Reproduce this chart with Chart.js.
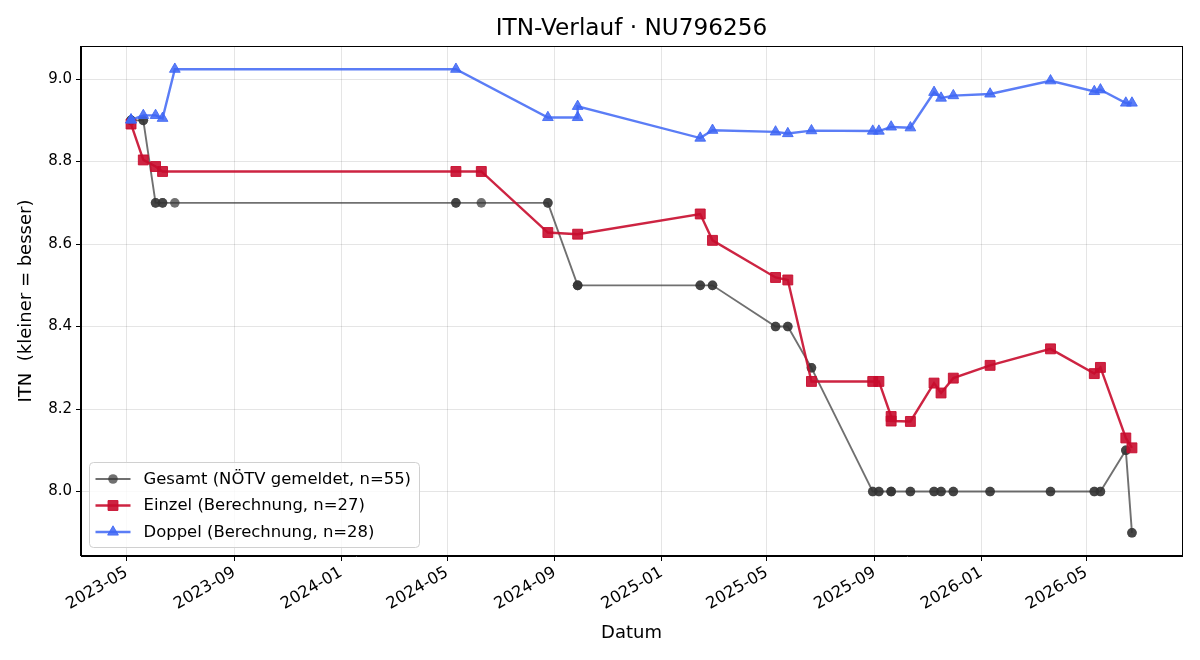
<!DOCTYPE html>
<html>
<head>
<meta charset="utf-8">
<script src="https://cdn.jsdelivr.net/npm/chart.js@4/dist/chart.umd.min.js"></script>
<style>
  html, body { margin: 0; padding: 0; background: #ffffff; }
  #wrap { width: 1200px; height: 660px; position: relative; }
</style>
</head>
<body>
<div id="wrap"><canvas id="c" width="1200" height="660"></canvas></div>
<script>
// ---------------- DATA ----------------
const chartTitle = 'ITN-Verlauf · NU796256';
const xAxisTitle = 'Datum';
const yAxisTitle = 'ITN  (kleiner = besser)';

const gesamtLabel = 'Gesamt (NÖTV gemeldet, n=55)';
const gesamtDates = [
  '2023-05-06','2023-05-06','2023-05-06','2023-05-20','2023-05-20',
  '2023-06-03','2023-06-03','2023-06-11','2023-06-11','2023-06-25',
  '2024-05-11','2024-05-11','2024-06-09','2024-08-24','2024-08-24',
  '2024-09-27','2024-09-27','2024-09-27','2025-02-14','2025-02-14',
  '2025-02-28','2025-02-28','2025-05-11','2025-05-11','2025-05-25',
  '2025-05-25','2025-06-21','2025-06-21','2025-08-30','2025-08-30',
  '2025-09-06','2025-09-06','2025-09-20','2025-09-20','2025-09-20',
  '2025-10-12','2025-10-12','2025-11-08','2025-11-08','2025-11-16',
  '2025-11-16','2025-11-30','2025-11-30','2026-01-11','2026-01-11',
  '2026-03-21','2026-03-21','2026-05-10','2026-05-10','2026-05-17',
  '2026-05-17','2026-06-15','2026-06-15','2026-06-22','2026-06-22'
];
const gesamtValues = [
  8.9, 8.9, 8.9, 8.9, 8.9,
  8.7, 8.7, 8.7, 8.7, 8.7,
  8.7, 8.7, 8.7, 8.7, 8.7,
  8.5, 8.5, 8.5, 8.5, 8.5,
  8.5, 8.5, 8.4, 8.4, 8.4,
  8.4, 8.3, 8.3, 8.0, 8.0,
  8.0, 8.0, 8.0, 8.0, 8.0,
  8.0, 8.0, 8.0, 8.0, 8.0,
  8.0, 8.0, 8.0, 8.0, 8.0,
  8.0, 8.0, 8.0, 8.0, 8.0,
  8.0, 8.1, 8.1, 7.9, 7.9
];

const einzelLabel = 'Einzel (Berechnung, n=27)';
const einzelDates = [
  '2023-05-06','2023-05-20','2023-06-03','2023-06-11','2024-05-11',
  '2024-06-09','2024-08-24','2024-09-27','2025-02-14','2025-02-28',
  '2025-05-11','2025-05-25','2025-06-21','2025-08-30','2025-09-06',
  '2025-09-20','2025-09-20','2025-10-12','2025-11-08','2025-11-16',
  '2025-11-30','2026-01-11','2026-03-21','2026-05-10','2026-05-17',
  '2026-06-15','2026-06-22'
];
const einzelValues = [
  8.891, 8.804, 8.788, 8.776, 8.776,
  8.776, 8.628, 8.624, 8.673, 8.609,
  8.519, 8.513, 8.267, 8.267, 8.267,
  8.182, 8.171, 8.170, 8.263, 8.239,
  8.275, 8.306, 8.346, 8.286, 8.301,
  8.130, 8.106
];

const doppelLabel = 'Doppel (Berechnung, n=28)';
const doppelDates = [
  '2023-05-06','2023-05-06','2023-05-20','2023-06-03','2023-06-11',
  '2023-06-25','2024-05-11','2024-08-24','2024-09-27','2024-09-27',
  '2025-02-14','2025-02-28','2025-05-11','2025-05-25','2025-06-21',
  '2025-08-30','2025-09-06','2025-09-20','2025-10-12','2025-11-08',
  '2025-11-16','2025-11-30','2026-01-11','2026-03-21','2026-05-10',
  '2026-05-17','2026-06-15','2026-06-22'
];
const doppelValues = [
  8.901, 8.901, 8.912, 8.912, 8.905,
  9.024, 9.024, 8.907, 8.907, 8.934,
  8.857, 8.876, 8.872, 8.868, 8.875,
  8.874, 8.874, 8.884, 8.882, 8.968,
  8.954, 8.960, 8.964, 8.996, 8.970,
  8.974, 8.942, 8.942
];

const xTickLabels = ['2023-05','2023-09','2024-01','2024-05','2024-09','2025-01','2025-05','2025-09','2026-01','2026-05'];
const yTickValues = [8.0, 8.2, 8.4, 8.6, 8.8, 9.0];

// ---------------- HELPERS ----------------
const FONT = "'DejaVu Sans', 'Liberation Sans', sans-serif";
function ts(s) {
  const p = s.split('-');
  return Date.UTC(+p[0], (+p[1]) - 1, p[2] ? +p[2] : 1);
}
function pts(dates, values) {
  return dates.map((d, i) => ({ x: ts(d), y: values[i] }));
}

const allX = [].concat(gesamtDates, einzelDates, doppelDates).map(ts);
const allY = [].concat(gesamtValues, einzelValues, doppelValues);
const xMinD = Math.min(...allX), xMaxD = Math.max(...allX);
const yMinD = Math.min(...allY), yMaxD = Math.max(...allY);
const xPad = (xMaxD - xMinD) * 0.05, yPad = (yMaxD - yMinD) * 0.05;

const tickMap = {};
xTickLabels.forEach(l => { tickMap[ts(l)] = l; });

const C_GRAY = 'rgba(51,51,51,0.7)';
const C_RED = 'rgba(200,12,46,0.9)';
const C_BLUE = 'rgba(62,102,245,0.85)';

// ---------------- PLUGINS ----------------
const framePlugin = {
  id: 'frame',
  afterDatasetsDraw(chart) {
    const a = chart.chartArea, ctx = chart.ctx;
    ctx.save();
    ctx.strokeStyle = '#000';
    ctx.lineWidth = 1;
    ctx.strokeRect(Math.round(a.left) - 0.5, Math.round(a.top) + 0.5, Math.round(a.right - a.left) + 1, Math.round(a.bottom - a.top) - 1);
    ctx.restore();
  }
};

const titlePlugin = {
  id: 'areaTitle',
  afterDraw(chart) {
    const a = chart.chartArea, ctx = chart.ctx;
    ctx.save();
    ctx.fillStyle = '#000';
    ctx.font = '23.2px ' + FONT;
    ctx.textAlign = 'center';
    ctx.textBaseline = 'middle';
    ctx.fillText(chartTitle, (a.left + a.right) / 2, 28.5);
    ctx.restore();
  }
};

function drawMarker(ctx, style, x, y, r, color, bw) {
  ctx.fillStyle = color;
  ctx.strokeStyle = color;
  ctx.lineWidth = bw;
  ctx.beginPath();
  if (style === 'circle') {
    ctx.arc(x, y, r, 0, Math.PI * 2);
  } else if (style === 'rect') {
    const s = r * Math.SQRT1_2;
    ctx.rect(x - s, y - s, 2 * s, 2 * s);
  } else if (style === 'triangle') {
    ctx.moveTo(x, y - r);
    ctx.lineTo(x + r * Math.sin(2 * Math.PI / 3), y - r * Math.cos(2 * Math.PI / 3));
    ctx.lineTo(x + r * Math.sin(4 * Math.PI / 3), y - r * Math.cos(4 * Math.PI / 3));
    ctx.closePath();
  }
  ctx.fill();
  if (bw > 0) ctx.stroke();
}

const legendPlugin = {
  id: 'innerLegend',
  afterDraw(chart) {
    const ctx = chart.ctx;
    const a = chart.chartArea;
    const bx = a.left + 8.5, by = 462.5, bw = 330, bh = 85, rad = 4;
    ctx.save();
    ctx.beginPath();
    ctx.moveTo(bx + rad, by);
    ctx.lineTo(bx + bw - rad, by);
    ctx.quadraticCurveTo(bx + bw, by, bx + bw, by + rad);
    ctx.lineTo(bx + bw, by + bh - rad);
    ctx.quadraticCurveTo(bx + bw, by + bh, bx + bw - rad, by + bh);
    ctx.lineTo(bx + rad, by + bh);
    ctx.quadraticCurveTo(bx, by + bh, bx, by + bh - rad);
    ctx.lineTo(bx, by + rad);
    ctx.quadraticCurveTo(bx, by, bx + rad, by);
    ctx.closePath();
    ctx.fillStyle = 'rgba(255,255,255,0.8)';
    ctx.fill();
    ctx.strokeStyle = '#d0d0d0';
    ctx.lineWidth = 1;
    ctx.stroke();

    const order = [0, 1, 2];
    const rowY = [479, 505.5, 532];
    order.forEach((di, k) => {
      const ds = chart.data.datasets[di];
      const y = rowY[k];
      ctx.strokeStyle = ds.borderColor;
      ctx.lineWidth = ds.borderWidth;
      ctx.beginPath();
      ctx.moveTo(bx + 6, y);
      ctx.lineTo(bx + 41, y);
      ctx.stroke();
      drawMarker(ctx, ds.pointStyle, bx + 23.5, y, ds.pointRadius, ds.pointBackgroundColor, ds.pointBorderWidth);
      ctx.fillStyle = '#000';
      ctx.font = '16.45px ' + FONT;
      ctx.textBaseline = 'middle';
      ctx.textAlign = 'left';
      ctx.fillText(ds.label, bx + 54, y + 0.5);
    });
    ctx.restore();
  }
};

// ---------------- CHART ----------------
const ctx = document.getElementById('c').getContext('2d');
new Chart(ctx, {
  type: 'line',
  data: {
    datasets: [
      {
        label: gesamtLabel,
        data: pts(gesamtDates, gesamtValues),
        borderColor: C_GRAY,
        backgroundColor: C_GRAY,
        pointBackgroundColor: C_GRAY,
        pointBorderColor: C_GRAY,
        borderWidth: 1.9,
        pointStyle: 'circle',
        pointRadius: 4.8,
        pointBorderWidth: 0,
        tension: 0,
        order: 3
      },
      {
        label: einzelLabel,
        data: pts(einzelDates, einzelValues),
        borderColor: C_RED,
        backgroundColor: C_RED,
        pointBackgroundColor: C_RED,
        pointBorderColor: C_RED,
        borderWidth: 2.4,
        pointStyle: 'rect',
        pointRadius: 7,
        pointBorderWidth: 1,
        tension: 0,
        order: 2
      },
      {
        label: doppelLabel,
        data: pts(doppelDates, doppelValues),
        borderColor: C_BLUE,
        backgroundColor: C_BLUE,
        pointBackgroundColor: C_BLUE,
        pointBorderColor: C_BLUE,
        borderWidth: 2.4,
        pointStyle: 'triangle',
        pointRadius: 6.2,
        pointBorderWidth: 1,
        tension: 0,
        order: 1
      }
    ]
  },
  options: {
    responsive: false,
    animation: false,
    devicePixelRatio: 1,
    layout: { padding: { left: 0, right: 18, top: 46, bottom: 0 } },
    plugins: {
      legend: { display: false },
      tooltip: { enabled: false },
      title: { display: false }
    },
    scales: {
      x: {
        type: 'linear',
        min: xMinD - xPad,
        max: xMaxD + xPad,
        afterBuildTicks(scale) {
          scale.ticks = xTickLabels.map(l => ({ value: ts(l) }));
        },
        afterFit(scale) { scale.height = 104; },
        ticks: {
          autoSkip: false,
          maxRotation: 30,
          minRotation: 30,
          padding: 2,
          color: '#000',
          font: { family: FONT, size: 16.3 },
          callback: (v) => tickMap[v] || ''
        },
        grid: {
          color: 'rgba(0,0,0,0.1)',
          tickColor: '#000',
          tickLength: 5,
          lineWidth: 1
        },
        border: { display: true, color: '#000', width: 1 },
        title: {
          display: true,
          text: xAxisTitle,
          color: '#000',
          font: { family: FONT, size: 18 },
          padding: { top: 0, bottom: 16.2 }
        }
      },
      y: {
        type: 'linear',
        min: yMinD - yPad,
        max: yMaxD + yPad,
        afterBuildTicks(scale) {
          scale.ticks = yTickValues.map(v => ({ value: v }));
        },
        afterFit(scale) { scale.width = 81; },
        ticks: {
          padding: 4,
          color: '#000',
          font: { family: FONT, size: 15 },
          callback: (v) => Number(v).toFixed(1)
        },
        grid: {
          color: 'rgba(0,0,0,0.1)',
          tickColor: '#000',
          tickLength: 5,
          lineWidth: 1
        },
        border: { display: true, color: '#000', width: 1 },
        title: {
          display: true,
          text: yAxisTitle,
          color: '#000',
          font: { family: FONT, size: 18 },
          padding: { top: 15.2, bottom: 0 }
        }
      }
    }
  },
  plugins: [framePlugin, legendPlugin, titlePlugin]
});
</script>
</body>
</html>
